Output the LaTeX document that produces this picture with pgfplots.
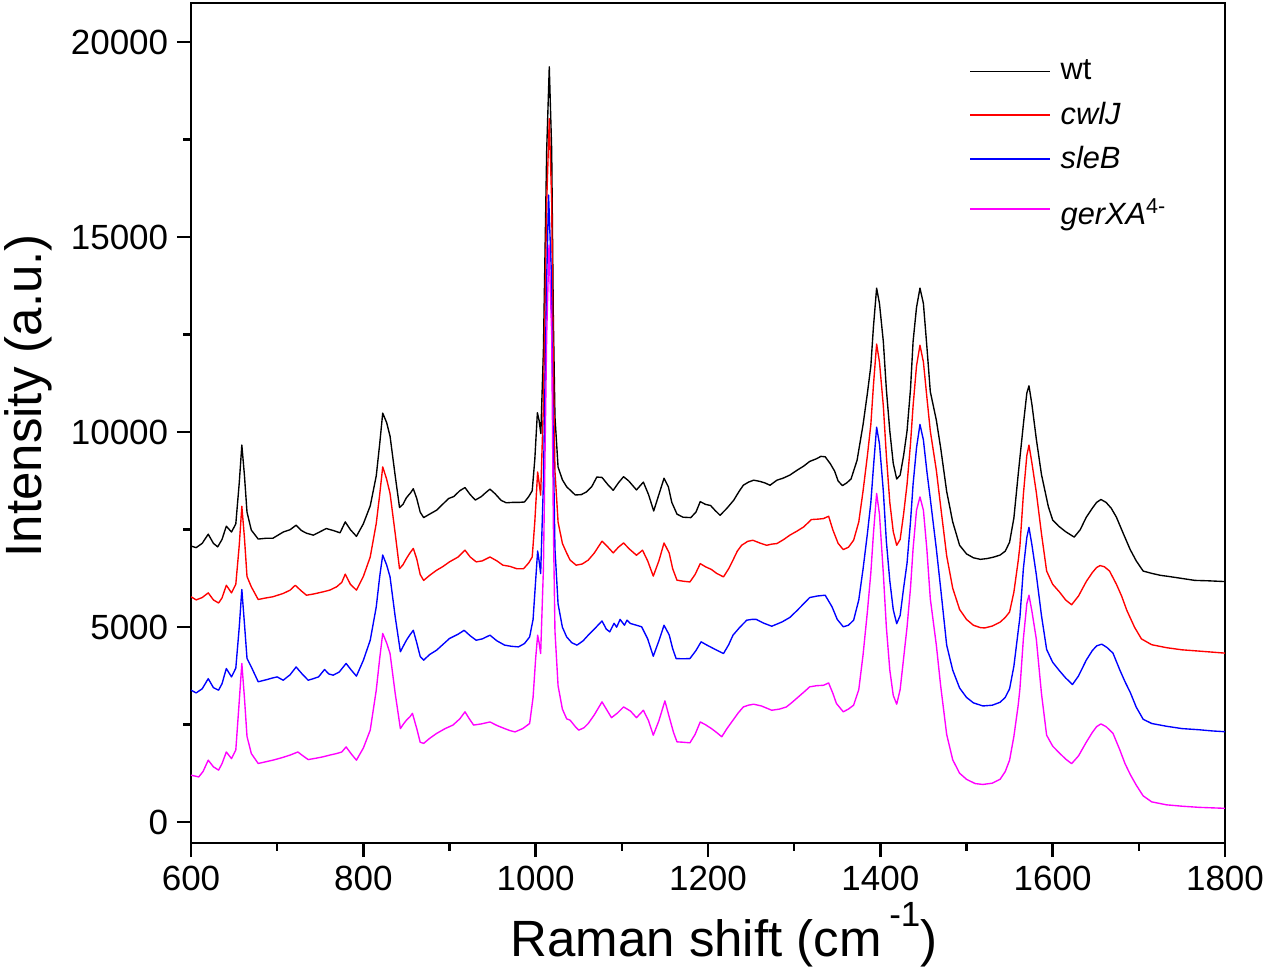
\documentclass[border=0pt]{standalone}
\usepackage{fontspec}
\setmainfont{Liberation Sans}
\usepackage{pgfplots}
\pgfplotsset{compat=1.18}
\usetikzlibrary{calc}
\definecolor{oRed}{RGB}{255,0,0}
\definecolor{oBlue}{RGB}{0,0,255}
\definecolor{oMag}{RGB}{255,0,255}
\begin{document}
\begin{tikzpicture}
\begin{axis}[
  name=ax,
  scale only axis,
  width=413.6pt, height=336pt,
  xmin=600, xmax=1800, ymin=-540, ymax=21000,
  xtick={600,800,...,1800}, ytick={0,5000,...,20000},
  scaled y ticks=false, scaled x ticks=false,
  minor x tick num=1, minor y tick num=1,
  tick align=outside, tick pos=left,
  major tick length=5.6pt, minor tick length=3pt,
  every tick/.append style={black, line width=1pt},
  axis line style={line width=1pt},
  ticklabel style={font=\fontsize{14}{16}\selectfont},
  /pgf/number format/1000 sep={},
  /pgf/number format/assume math mode=true,
  xlabel={Raman shift (cm\hspace{3pt}\raisebox{12pt}{\fontsize{14}{14}\selectfont -1})},
  ylabel={Intensity (a.u.)},
  every axis x label/.style={at={([xshift=6.4pt,yshift=-45.2pt]rel axis cs:0.5,0)}, anchor=base, font=\fontsize{20.4}{24}\selectfont},
  every axis y label/.style={at={([xshift=-59.7pt,yshift=11pt]rel axis cs:0,0.5)}, rotate=90, anchor=base, font=\fontsize{20.4}{24}\selectfont},
  legend style={at={(rel axis cs:0.745,0.945)}, anchor=north west, draw=none, fill=none,
    font=\fontsize{12.3}{17}\selectfont, row sep=3.3pt, column sep=2pt},
  legend cell align=left,
  legend image code/.code={\draw[#1] (0pt,0pt) -- (32pt,0pt);},
  every axis plot/.append style={line width=0.55pt, line join=round},
]
\addplot[black] coordinates {
(600,7080)(606,7040)(613,7150)(620,7385)(626,7150)(631,7060)(636,7250)(641,7590)(647,7440)(652,7650)
(656,8700)(659,9670)(662,8900)(665,7950)(670,7490)(678,7260)(687,7280)(695,7280)(707,7440)(715,7500)
(722,7615)(728,7480)(734,7410)(742,7360)(750,7450)(757,7530)(765,7480)(773,7420)(779,7700)(785,7500)
(792,7330)(800,7650)(808,8110)(815,8880)(819,9700)(822.5,10490)(827,10250)(831,9900)(837,8880)(842,8070)
(846,8150)(850,8320)(855,8450)(858,8550)(862,8300)(866,7950)(870,7810)(877,7900)(885,8000)(892,8150)
(899,8300)(905,8350)(912,8500)(918,8580)(924,8400)(930,8260)(937,8350)(942,8450)(947,8540)(953,8420)
(960,8250)(966,8190)(973,8200)(980,8200)(987,8210)(992,8350)(996,8500)(999,9300)(1002,10500)(1004,10300)
(1006,9965)(1009,12100)(1012.8,17230)(1015.8,19370)(1018.6,17230)(1020.5,12960)(1022.4,10390)(1026,9110)(1031,8780)(1036,8600)
(1046,8390)(1053,8400)(1059,8470)(1065,8600)(1071,8850)(1077,8840)(1084,8650)(1090,8510)(1096,8700)(1102,8860)
(1108,8750)(1117,8520)(1125,8720)(1131,8400)(1137,7980)(1143,8400)(1149,8820)(1154,8600)(1158,8200)(1164,7900)
(1171,7820)(1180,7810)(1186,7950)(1191,8220)(1197,8150)(1203,8120)(1208,8000)(1214,7870)(1222,8050)(1230,8260)
(1236,8480)(1241,8640)(1247,8720)(1253,8770)(1260,8740)(1266,8700)(1272,8640)(1280,8770)(1287,8820)(1295,8900)
(1303,9020)(1311,9130)(1318,9250)(1326,9320)(1331,9380)(1336,9370)(1342,9190)(1347,9000)(1351,8750)(1356,8630)
(1361,8700)(1366,8800)(1373,9280)(1380,10200)(1385,11000)(1389,11700)(1392,12700)(1395.7,13695)(1399,13300)(1403.5,12320)
(1407,11100)(1411,10030)(1415,9200)(1419,8800)(1423,8900)(1427,9400)(1431,10030)(1435,11100)(1438,12320)(1442,13200)
(1446,13695)(1450,13300)(1454,12200)(1458,11040)(1465,10310)(1470,9600)(1477,8480)(1484,7700)(1492,7100)(1500,6880)
(1508,6780)(1516,6740)(1524,6760)(1532,6800)(1539,6850)(1545,6950)(1550,7180)(1555,7800)(1560,8915)(1566,10200)
(1570,11000)(1572.5,11190)(1576,10700)(1581,9830)(1587,8915)(1595,8090)(1600,7750)(1607,7590)(1615,7450)(1625,7310)
(1632,7500)(1639,7820)(1646,8050)(1651,8200)(1656,8275)(1662,8200)(1668,8050)(1674,7820)(1682,7400)(1690,6990)
(1697,6700)(1705,6440)(1715,6380)(1725,6330)(1735,6300)(1750,6250)(1765,6200)(1780,6190)(1800,6170)
};
\addlegendentry{wt}
\addplot[oRed] coordinates {
(600,5780)(606,5700)(613,5760)(620,5880)(626,5700)(632,5620)(636,5750)(641,6075)(647,5880)(652,6100)
(656,7100)(659,8100)(662,7300)(665,6300)(670,6035)(678,5710)(687,5750)(695,5780)(707,5865)(715,5950)
(721,6075)(728,5930)(734,5820)(742,5850)(753,5905)(761,5950)(769,6035)(775,6150)(779,6360)(785,6100)
(792,5950)(800,6300)(808,6800)(815,7660)(819,8400)(822.5,9110)(827,8800)(831,8430)(837,7400)(842,6500)
(846,6600)(850,6760)(854,6900)(858,7020)(862,6750)(866,6350)(870,6200)(877,6330)(885,6460)(892,6550)
(900,6675)(910,6800)(918,6975)(924,6800)(931,6675)(938,6700)(947,6800)(955,6700)(962,6590)(970,6560)
(978,6500)(986,6500)(992,6650)(996,6800)(999,7700)(1002.3,8980)(1004,8700)(1005.8,8385)(1009,10700)(1012.8,15900)
(1015.8,18040)(1018.6,15900)(1020.5,11600)(1022.4,9000)(1026,7700)(1031,7150)(1036,6900)(1040,6720)(1047,6590)(1054,6620)
(1061,6720)(1068,6900)(1077,7205)(1084,7050)(1090,6905)(1096,7050)(1102,7160)(1109,7000)(1117,6845)(1124,6975)
(1130,6700)(1136.5,6310)(1143,6700)(1149,7160)(1155,6900)(1159,6500)(1164,6205)(1171,6180)(1179,6160)(1185,6350)
(1191,6630)(1197,6550)(1204,6480)(1210,6380)(1218,6290)(1224,6500)(1229,6720)(1234,6950)(1239,7100)(1246,7200)
(1252,7230)(1260,7160)(1268,7100)(1274,7130)(1280,7145)(1288,7250)(1295,7360)(1303,7460)(1311,7570)(1320,7760)
(1327,7770)(1334,7785)(1340,7845)(1345,7490)(1351,7150)(1357,6990)(1363,7050)(1369,7230)(1375,7700)(1380,8500)
(1385,9400)(1389,10200)(1392,11200)(1395.7,12260)(1399,11800)(1403.5,10670)(1407,9400)(1411,8200)(1415,7450)(1419,7100)
(1423,7250)(1427,7900)(1431,8660)(1435,9700)(1438,10670)(1442,11700)(1446,12230)(1450,11800)(1454,10900)(1458,10030)
(1465,9025)(1470,8100)(1477,6830)(1484,6000)(1492,5455)(1500,5200)(1508,5050)(1516,4990)(1521,4980)(1530,5030)
(1539,5130)(1545,5250)(1550,5390)(1555,5900)(1560,6700)(1562,7085)(1566,8400)(1570,9400)(1572.5,9670)(1576,9200)
(1581,8460)(1587,7400)(1593,6440)(1600,6100)(1608,5900)(1615,5700)(1622,5575)(1630,5800)(1639,6170)(1646,6400)
(1651,6530)(1655,6580)(1660,6550)(1666,6440)(1674,6100)(1680,5800)(1686,5435)(1695,5000)(1703,4700)(1715,4550)
(1732,4475)(1750,4420)(1771,4385)(1800,4335)
};
\addlegendentry{\textit{cwlJ}}
\addplot[oBlue] coordinates {
(600,3385)(606,3315)(613,3420)(620,3680)(626,3450)(632,3385)(636,3550)(641,3940)(647,3725)(652,3950)
(656,5000)(659,5965)(662,5100)(665,4200)(670,3980)(678,3600)(687,3650)(695,3700)(700,3725)(707,3640)
(715,3780)(722,3980)(729,3800)(736,3640)(742,3680)(748,3725)(755,3915)(760,3800)(765,3770)(772,3850)
(780,4070)(786,3900)(792,3745)(800,4150)(808,4665)(815,5520)(819,6300)(822.5,6850)(827,6600)(831,6290)
(837,5265)(843,4370)(846,4500)(850,4665)(854,4800)(858,4920)(862,4600)(866,4250)(870,4155)(877,4300)
(885,4410)(892,4550)(900,4710)(910,4820)(917,4920)(924,4780)(931,4665)(938,4700)(947,4795)(955,4650)
(964,4540)(972,4510)(980,4495)(987,4580)(993,4750)(997,5200)(1000,6200)(1002.3,6955)(1004,6700)(1005.8,6375)
(1009,8700)(1012.8,13900)(1015,16080)(1018,14200)(1020.5,9600)(1022.4,7000)(1026,5600)(1031,5000)(1036,4750)(1042,4600)
(1048,4540)(1055,4650)(1061,4795)(1068,4950)(1077,5160)(1082,4950)(1086,4880)(1091,5100)(1094,5000)(1098,5200)
(1103,5050)(1106,5180)(1110,5095)(1117,5050)(1123,5010)(1130,4700)(1136.5,4255)(1143,4650)(1149,5050)(1155,4800)
(1159,4450)(1163,4195)(1171,4190)(1179,4195)(1186,4400)(1192,4625)(1198,4550)(1204,4480)(1211,4400)(1218,4325)
(1224,4550)(1229,4795)(1237,5000)(1245,5180)(1251,5200)(1256,5200)(1265,5100)(1274,5025)(1280,5080)(1286,5135)
(1295,5250)(1303,5420)(1311,5600)(1318,5760)(1327,5800)(1336,5820)(1344,5520)(1350,5200)(1357,5010)(1363,5050)
(1369,5180)(1375,5700)(1380,6500)(1385,7400)(1389,8200)(1392,9100)(1395.7,10130)(1399,9700)(1403.5,8480)(1407,7200)
(1411,6190)(1415,5450)(1419,5090)(1423,5300)(1427,6000)(1431,6645)(1435,7700)(1438,8660)(1442,9600)(1446,10200)
(1450,9800)(1454,9000)(1458,8290)(1465,7010)(1470,6000)(1477,4540)(1484,3900)(1492,3440)(1500,3200)(1508,3060)
(1519,2980)(1530,3000)(1539,3075)(1545,3200)(1550,3420)(1555,4000)(1560,4900)(1562,5255)(1566,6500)(1570,7300)
(1572.5,7560)(1576,7100)(1581,6350)(1587,5300)(1593,4430)(1600,4100)(1608,3880)(1615,3700)(1623,3530)(1630,3750)
(1639,4155)(1646,4400)(1651,4520)(1657,4565)(1663,4480)(1670,4335)(1678,3900)(1684,3600)(1690,3330)(1697,2950)
(1705,2640)(1715,2530)(1732,2460)(1750,2400)(1770,2370)(1785,2340)(1800,2320)
};
\addlegendentry{\textit{sleB}}
\addplot[oMag] coordinates {
(600,1205)(605,1180)(609,1160)(614,1300)(620,1590)(626,1420)(632,1335)(636,1500)(641,1800)(647,1630)
(652,1850)(656,3100)(659,4070)(662,3200)(665,2200)(670,1760)(678,1505)(687,1550)(695,1590)(705,1650)
(715,1720)(724,1800)(730,1700)(736,1605)(745,1640)(753,1675)(761,1720)(769,1760)(775,1800)(780,1930)
(786,1750)(792,1590)(800,1900)(808,2360)(815,3385)(819,4200)(822.5,4840)(827,4600)(831,4325)(837,3300)
(843,2400)(846,2500)(850,2615)(854,2700)(857,2790)(862,2400)(866,2050)(870,2020)(877,2150)(885,2275)
(895,2400)(904,2490)(912,2650)(918,2830)(923,2650)(928,2490)(937,2520)(947,2570)(955,2480)(964,2400)
(970,2350)(976,2315)(985,2400)(993,2530)(997,3200)(1000,4200)(1002.3,4795)(1004,4600)(1005.8,4325)(1009,6500)
(1012.8,12500)(1015.5,14800)(1018.6,12500)(1020.5,7700)(1022.4,4900)(1026,3500)(1031,2900)(1036,2650)(1040,2615)(1046,2450)
(1050,2360)(1056,2420)(1061,2530)(1068,2750)(1077,3085)(1082,2900)(1088,2680)(1095,2800)(1102,2955)(1110,2850)
(1117,2680)(1125,2870)(1131,2600)(1136.5,2230)(1143,2600)(1150,3110)(1155,2700)(1160,2300)(1164,2060)(1171,2050)
(1179,2035)(1185,2250)(1191,2570)(1197,2500)(1204,2400)(1210,2300)(1216,2190)(1222,2400)(1229,2615)(1235,2800)
(1241,2955)(1247,3000)(1253,3025)(1262,2980)(1274,2870)(1283,2900)(1291,2955)(1298,3080)(1305,3215)(1312,3350)
(1318,3470)(1326,3500)(1334,3510)(1340,3570)(1345,3300)(1349,3045)(1357,2830)(1363,2900)(1369,3000)(1375,3400)
(1380,4300)(1385,5400)(1389,6400)(1392,7400)(1395.7,8430)(1399,7900)(1403.5,6370)(1407,5000)(1411,3900)(1415,3250)
(1419,3025)(1423,3400)(1427,4200)(1431,5000)(1435,6000)(1438,7010)(1442,8000)(1446,8340)(1450,8000)(1454,7000)
(1458,5730)(1465,4540)(1470,3500)(1477,2250)(1484,1600)(1492,1255)(1500,1100)(1510,990)(1519,967)(1530,1000)
(1539,1100)(1545,1300)(1550,1590)(1555,2200)(1560,3000)(1562,3420)(1566,4700)(1570,5600)(1572.5,5820)(1576,5400)
(1581,4700)(1587,3300)(1593,2230)(1600,1950)(1608,1770)(1615,1620)(1622,1500)(1630,1700)(1639,2050)(1646,2300)
(1651,2450)(1656,2520)(1662,2450)(1670,2280)(1678,1850)(1684,1500)(1690,1225)(1697,950)(1705,675)(1715,520)
(1732,445)(1750,410)(1770,380)(1800,355)
};
\addlegendentry{\rule{0pt}{13.5pt}\textit{gerXA}\textsuperscript{4-}}
\end{axis}
\pgfresetboundingbox
\path ($(ax.south west)+(-76.4pt,-49.6pt)$) rectangle ($(ax.north east)+(16.8pt,1.3pt)$);
\end{tikzpicture}
\end{document}
